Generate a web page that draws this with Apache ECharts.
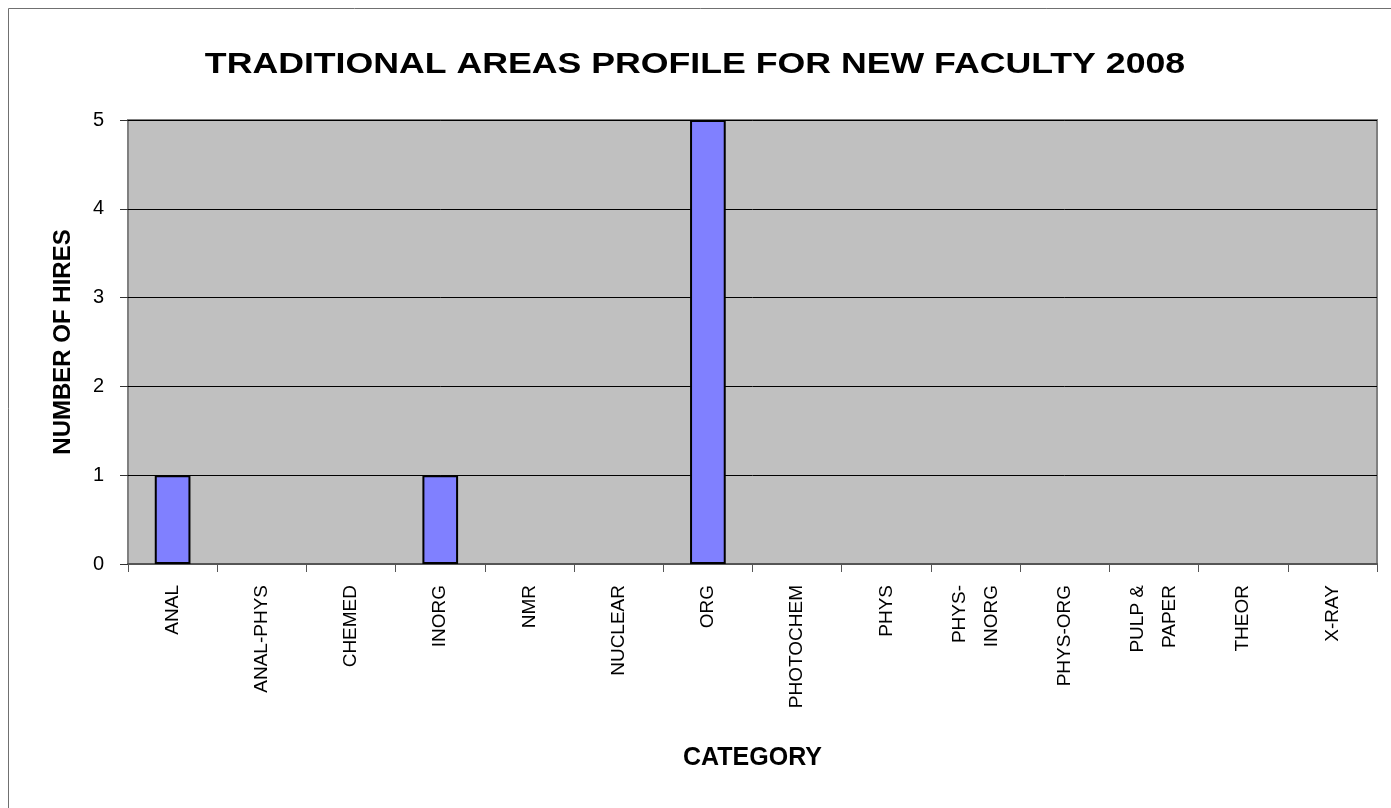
<!DOCTYPE html>
<html>
<head>
<meta charset="utf-8">
<script src="https://cdn.jsdelivr.net/npm/echarts@6/dist/echarts.min.js"></script>
<style>
html, body { margin: 0; padding: 0; background: #fff; }
#main { width: 1391px; height: 808px; }
</style>
</head>
<body>
<div id="main"></div>
<script>
// 类别和数据
var categories = ['ANAL', 'ANAL-PHYS', 'CHEMED', 'INORG', 'NMR', 'NUCLEAR', 'ORG',
    'PHOTOCHEM', 'PHYS', 'PHYS-\nINORG', 'PHYS-ORG', 'PULP &\nPAPER', 'THEOR', 'X-RAY'];
var hires = [1, 0, 0, 1, 0, 0, 5, 0, 0, 0, 0, 0, 0, 0];
var yTicks = [0, 1, 2, 3, 4, 5];
var chartTitle = 'TRADITIONAL AREAS PROFILE FOR NEW FACULTY 2008';

var myChart = echarts.init(document.getElementById('main'));

// 0 的柱子不画边框
var barData = hires.map(function (v) {
    return v === 0 ? { value: v, itemStyle: { borderWidth: 0, opacity: 0 } } : v;
});

var option = {
    backgroundColor: '#ffffff',
    animation: false,
    // 外边框 + 标题(横向拉宽一点)
    graphic: [{
        type: 'rect',
        shape: { x: 8.5, y: 8.5, width: 1400, height: 820 },
        style: { fill: 'none', stroke: '#707070', lineWidth: 1 },
        silent: true
    }, {
        type: 'text',
        x: 695,
        y: 65,
        scaleX: 1.23,
        style: {
            text: chartTitle,
            fontFamily: 'Arial, "Liberation Sans", sans-serif',
            fontSize: 29,
            fontWeight: 'bold',
            fill: '#000',
            align: 'center',
            verticalAlign: 'middle'
        },
        silent: true
    }],
    grid: {
        left: 128,
        right: 14,
        top: 120,
        bottom: 244,
        show: true,
        backgroundColor: '#C0C0C0',
        borderColor: '#808080',
        borderWidth: 2
    },
    xAxis: {
        type: 'category',
        data: categories,
        name: 'CATEGORY',
        nameLocation: 'middle',
        nameGap: 182,
        nameTextStyle: {
            fontFamily: 'Arial, "Liberation Sans", sans-serif',
            fontSize: 25,
            fontWeight: 'bold',
            color: '#000'
        },
        axisLine: { lineStyle: { color: '#555', width: 2 } },
        axisTick: { show: true, length: 8, lineStyle: { color: '#555' } },
        axisLabel: {
            interval: 0,
            rotate: 90,
            margin: 21,
            fontFamily: 'Arial, "Liberation Sans", sans-serif',
            fontSize: 19,
            lineHeight: 32,
            color: '#000'
        }
    },
    yAxis: {
        type: 'value',
        min: 0,
        max: yTicks[yTicks.length - 1],
        interval: 1,
        name: 'NUMBER OF HIRES',
        nameLocation: 'middle',
        nameRotate: 90,
        nameGap: 53,
        nameTextStyle: {
            fontFamily: 'Arial, "Liberation Sans", sans-serif',
            fontSize: 24,
            fontWeight: 'bold',
            color: '#000'
        },
        axisLine: { show: false },
        axisTick: { show: true, length: 8, lineStyle: { color: '#333' } },
        axisLabel: {
            margin: 24,
            fontFamily: 'Arial, "Liberation Sans", sans-serif',
            fontSize: 20,
            color: '#000'
        },
        splitLine: { show: true, lineStyle: { color: '#000', width: 1 } }
    },
    series: [{
        type: 'bar',
        name: 'Hires',
        data: barData,
        barWidth: '40%',
        itemStyle: {
            color: '#8080FF',
            borderColor: '#000',
            borderWidth: 2
        }
    }]
};
myChart.setOption(option);
</script>
</body>
</html>
